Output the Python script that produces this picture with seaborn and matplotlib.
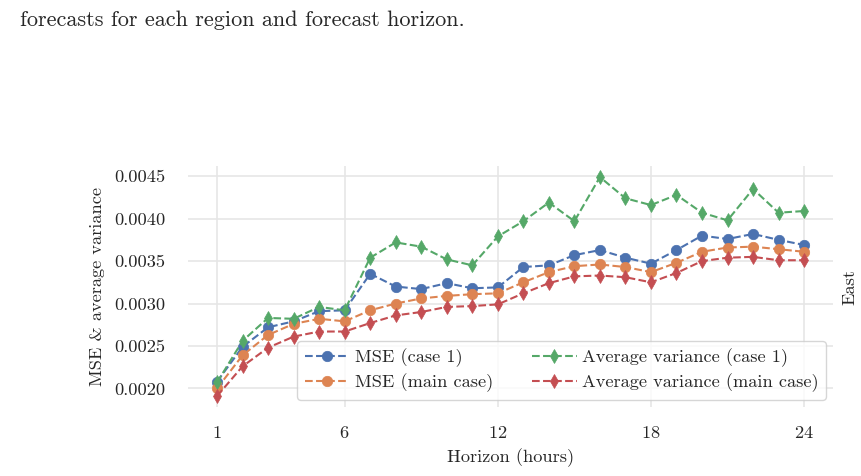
import numpy as np
import pandas as pd
import matplotlib
matplotlib.use("Agg")
import matplotlib.pyplot as plt
import seaborn as sns

# horizons
horizon = list(range(1, 25))

mse_case1 = [0.00208, 0.00249, 0.00272, 0.00279, 0.00291, 0.00292, 0.00335, 0.00320,
             0.00317, 0.00324, 0.00318, 0.00319, 0.00343, 0.00345, 0.00357, 0.00363,
             0.00354, 0.00347, 0.00363, 0.00380, 0.00376, 0.00382, 0.00375, 0.00369]
mse_main = [0.00200, 0.00239, 0.00263, 0.00276, 0.00282, 0.00279, 0.00292, 0.00300,
            0.00306, 0.00309, 0.00311, 0.00312, 0.00325, 0.00337, 0.00344, 0.00346,
            0.00343, 0.00337, 0.00348, 0.00361, 0.00366, 0.00367, 0.00364, 0.00361]
var_case1 = [0.00207, 0.00256, 0.00283, 0.00282, 0.00296, 0.00292, 0.00354, 0.00372,
             0.00367, 0.00352, 0.00345, 0.00379, 0.00397, 0.00419, 0.00397, 0.00449,
             0.00424, 0.00416, 0.00428, 0.00407, 0.00398, 0.00435, 0.00407, 0.00409]
var_main = [0.00191, 0.00226, 0.00248, 0.00261, 0.00267, 0.00267, 0.00277, 0.00286,
            0.00290, 0.00296, 0.00297, 0.00299, 0.00312, 0.00324, 0.00332, 0.00333,
            0.00331, 0.00325, 0.00336, 0.00350, 0.00354, 0.00355, 0.00351, 0.00351]

labels = ["MSE (case 1)", "MSE (main case)",
          "Average variance (case 1)", "Average variance (main case)"]
series = [mse_case1, mse_main, var_case1, var_main]
markers = ["o", "o", "d", "d"]
yticks = [0.0020, 0.0025, 0.0030, 0.0035, 0.0040, 0.0045]
ytick_labels = ["0.0020", "0.0025", "0.0030", "0.0035", "0.0040", "0.0045"]

sns.set_theme(style="whitegrid", palette="deep")
plt.rcParams["font.family"] = "serif"
plt.rcParams["font.serif"] = ["cmr10", "DejaVu Serif"]
plt.rcParams["mathtext.fontset"] = "cm"
plt.rcParams["axes.formatter.use_mathtext"] = True

fs = 13.2
fig = plt.figure(figsize=(8.61, 4.76), dpi=100)
ax = fig.add_axes([0.218, 0.145, 0.75, 0.506])

colors = sns.color_palette("deep")
for i, (lab, vals, mk) in enumerate(zip(labels, series, markers)):
    df = pd.DataFrame({"h": horizon, "v": vals})
    sns.lineplot(data=df, x="h", y="v", ax=ax, color=colors[i], marker=mk,
                 linestyle="--", markersize=7.5, markeredgewidth=0.5,
                 markeredgecolor=colors[i], label=lab, linewidth=1.5)

ax.set_xticks([1, 6, 12, 18, 24])
ax.set_yticks(yticks)
ax.set_yticklabels(ytick_labels)
ax.tick_params(axis="y", labelsize=fs, pad=10)
ax.tick_params(axis="x", labelsize=fs, pad=7)
ax.set_xlabel("Horizon (hours)", fontsize=fs, labelpad=5)
ax.set_ylabel("MSE & average variance", fontsize=fs, labelpad=7)
for s in ax.spines.values():
    s.set_visible(False)
ax.grid(True, color="#e6e6e6", linewidth=1.2)

leg = ax.legend(ncol=2, loc="lower right", fontsize=fs, frameon=True,
                borderaxespad=0.4, columnspacing=2.1, handlelength=2.45,
                handletextpad=0.3, labelspacing=0.35)
leg.get_frame().set_edgecolor("#cccccc")

ax.text(1.013, 0.5, "East", transform=ax.transAxes, rotation=90,
        va="center", ha="left", fontsize=fs)

fig.text(20 / 861, 1 - 26 / 476, "forecasts for each region and forecast horizon.",
         fontsize=16, va="baseline", ha="left")

fig.savefig("out.png", dpi=100)
